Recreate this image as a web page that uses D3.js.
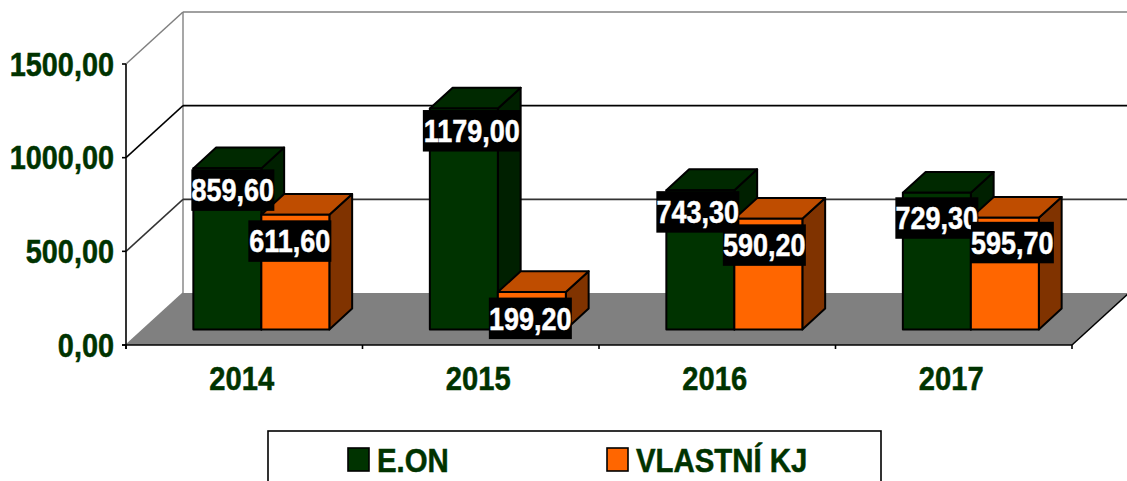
<!DOCTYPE html>
<html>
<head>
<meta charset="utf-8">
<script src="https://cdn.jsdelivr.net/npm/d3@7"></script>
<style>
  html, body { margin: 0; padding: 0; background: #fff; overflow: hidden; }
  svg { display: block; }
  text { font-family: "Liberation Sans", Arial, sans-serif; font-weight: bold; }
</style>
</head>
<body>
<svg width="1127" height="481"></svg>
<script>
// Chart data
const categories = ['2014', '2015', '2016', '2017'];
const seriesNames = ['E.ON', 'VLASTNÍ KJ'];
const eonValues = [859.6, 1179.0, 743.3, 729.3];
const vlastniValues = [611.6, 199.2, 590.2, 595.7];
const yTicks = [0, 500, 1000, 1500];

const svg = d3.select('svg');

// colours per series: front, top, side
const colors = [
  { front: '#003300', top: '#002900', side: '#002000' },
  { front: '#ff6600', top: '#bf4d00', side: '#803300' }
];
const textGreen = '#003300';

// plot box of the front plane
const xScale = d3.scaleBand().domain(categories).range([126, 1072]);
const yScale = d3.scaleLinear().domain([0, 1500]).range([345, 64]);
const seriesScale = d3.scaleBand().domain(seriesNames)
  .range([-68, 68]);

// depth of the 3d box, bars sit between 30% and 70% of it
const depth = { x: 57, y: -52 };
const project = (x, y, t) => [x + depth.x * t, y + depth.y * t];
const pts = list => list.map(p => p.join(',')).join(' ');

// squeezes text horizontally, the original font is narrower and heavier
const squeeze = (sel, k) => sel.each(function () {
  const len = this.getComputedTextLength();
  d3.select(this)
    .attr('textLength', len * k)
    .attr('lengthAdjust', 'spacingAndGlyphs')
    .attr('stroke', d3.select(this).attr('fill'))
    .attr('stroke-width', 0.5);
});

const x0 = xScale.range()[0];
const x1 = xScale.range()[1];
const floorY = yScale(0);

// floor
svg.append('polygon')
  .attr('points', pts([[x0, floorY], [x1, floorY], project(x1, floorY, 1), project(x0, floorY, 1)]))
  .attr('fill', '#808080');

// walls and gridlines
const walls = svg.append('g').attr('fill', 'none');
walls.append('line')
  .attr('x1', project(x0, 0, 1)[0]).attr('x2', project(x0, 0, 1)[0])
  .attr('y1', project(0, yScale(1500), 1)[1]).attr('y2', project(0, floorY, 1)[1])
  .attr('stroke', '#8a8a8a').attr('stroke-width', 1.5);

yTicks.forEach(t => {
  const y = yScale(t);
  const back = project(x0, y, 1);
  const end = project(x1, y, 1);
  const c = t === 1500 ? '#808080' : t === 500 ? '#333' : '#000';
  if (t > 0) {
    walls.append('line')
      .attr('x1', back[0]).attr('y1', back[1]).attr('x2', end[0]).attr('y2', end[1])
      .attr('stroke', c).attr('stroke-width', 1.6);
  }
  walls.append('line')
    .attr('x1', x0).attr('y1', y).attr('x2', back[0]).attr('y2', back[1])
    .attr('stroke', t === 0 ? '#808080' : c).attr('stroke-width', 1.5);
});

// right edge of the floor
svg.append('line')
  .attr('x1', x1).attr('y1', floorY)
  .attr('x2', project(x1, floorY, 1)[0]).attr('y2', project(x1, floorY, 1)[1])
  .attr('stroke', '#000').attr('stroke-width', 1.5);

// axes
const axes = svg.append('g').attr('stroke', '#000').attr('stroke-width', 1.6);
axes.append('line').attr('x1', x0).attr('x2', x0).attr('y1', yScale(1500)).attr('y2', floorY + 4);
axes.append('line').attr('x1', x0 - 4).attr('x2', x1).attr('y1', floorY).attr('y2', floorY);
axes.selectAll('.ytick').data(yTicks).enter().append('line')
  .attr('x1', x0 - 4).attr('x2', x0)
  .attr('y1', d => yScale(d)).attr('y2', d => yScale(d));
axes.selectAll('.xtick').data(d3.range(categories.length + 1)).enter().append('line')
  .attr('x1', d => x0 + d * xScale.step()).attr('x2', d => x0 + d * xScale.step())
  .attr('y1', floorY).attr('y2', floorY + 4);

const fmt = v => v.toFixed(2).replace('.', ',');

// axis labels
svg.append('g').selectAll('text').data(yTicks).enter().append('text')
  .attr('x', 114).attr('y', d => yScale(d) + 11.5)
  .attr('text-anchor', 'end')
  .attr('font-size', 33).attr('fill', textGreen)
  .text(fmt)
  .call(squeeze, 0.874);

svg.append('g').selectAll('text').data(categories).enter().append('text')
  .attr('x', d => xScale(d) + xScale.bandwidth() / 2 - 2.5)
  .attr('y', 390)
  .attr('text-anchor', 'middle')
  .attr('font-size', 33).attr('fill', textGreen)
  .text(d => d)
  .call(squeeze, 0.883);

// bars
const seriesValues = [eonValues, vlastniValues];
const bars = svg.append('g').attr('stroke', '#000').attr('stroke-width', 2).attr('stroke-linejoin', 'round');
const labelItems = [];

categories.forEach((cat, ci) => {
  seriesNames.forEach((name, si) => {
    const v = seriesValues[si][ci];
    const left = xScale(cat) + xScale.bandwidth() / 2 + seriesScale(name);
    const right = left + seriesScale.bandwidth();
    const top = yScale(v);
    const f = (x, y) => project(x, y, 0.3);
    const b = (x, y) => project(x, y, 0.7);
    const c = colors[si];

    bars.append('polygon')
      .attr('points', pts([f(right, floorY), b(right, floorY), b(right, top), f(right, top)]))
      .attr('fill', c.side);
    bars.append('polygon')
      .attr('points', pts([f(left, top), f(right, top), b(right, top), b(left, top)]))
      .attr('fill', c.top);
    bars.append('polygon')
      .attr('points', pts([f(left, floorY), f(right, floorY), f(right, top), f(left, top)]))
      .attr('fill', c.front);

    labelItems.push({ v, cx: (left + right) / 2 + project(0, 0, 0.3)[0], top: f(0, top)[1], ci, si });
  });
});

// shift of the value boxes [x, y], the original is not centred on the bars
const labelShift = [
  [[5.5, 1], [-5.5, 5.5]],
  [[8, 1.5], [-1.5, 5.5]],
  [[-2.5, 1], [-4, 5.5]],
  [[0, 4.5], [7.5, 4]]
];

const labels = svg.append('g');
labelItems.forEach(d => {
  const shift = labelShift[d.ci][d.si];
  const cx = d.cx + shift[0];
  const y = d.top + shift[1];
  const w = d.v >= 1000 ? 98 : 83;
  labels.append('rect')
    .attr('x', cx - w / 2).attr('y', y).attr('width', w).attr('height', 41.5)
    .attr('fill', '#000');
  labels.append('text')
    .attr('x', cx).attr('y', y + 32)
    .attr('text-anchor', 'middle')
    .attr('font-size', 31).attr('fill', '#fff')
    .text(fmt(d.v))
    .call(squeeze, 0.87);
});

// legend, cut by the bottom of the picture
const legend = svg.append('g');
legend.append('rect')
  .attr('x', 268).attr('y', 431).attr('width', 613).attr('height', 70)
  .attr('fill', '#fff').attr('stroke', '#000').attr('stroke-width', 1.6);

const legendX = d3.scaleOrdinal().domain(seriesNames).range([348, 607]);
const legendItem = legend.selectAll('.item').data(seriesNames).enter().append('g')
  .attr('transform', d => `translate(${legendX(d)}, 448)`);
legendItem.append('rect')
  .attr('width', 21).attr('height', 23)
  .attr('fill', (d, i) => colors[i].front)
  .attr('stroke', '#000').attr('stroke-width', 1.6);
legendItem.append('text')
  .attr('x', 29).attr('y', 24)
  .attr('font-size', 33).attr('fill', textGreen)
  .text(d => d)
  .call(squeeze, 0.89);
</script>
</body>
</html>
